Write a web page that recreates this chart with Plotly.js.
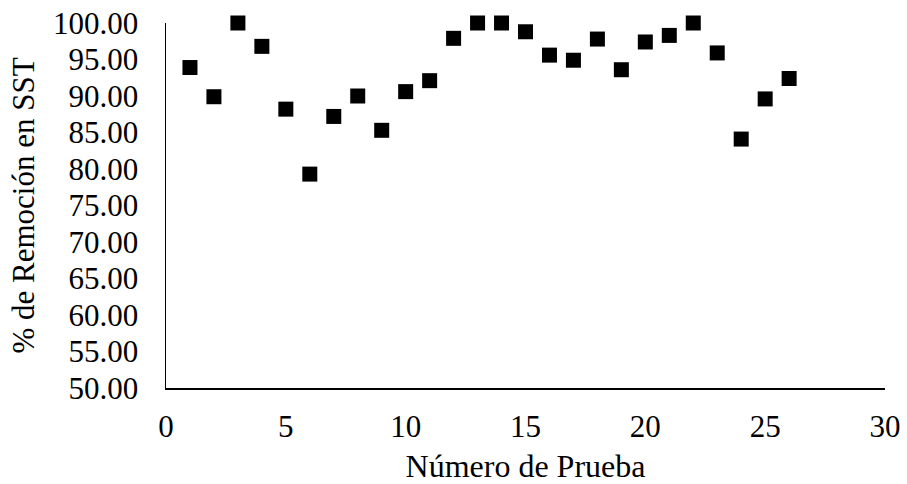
<!DOCTYPE html>
<html>
<head>
<meta charset="utf-8">
<script src="https://cdn.plot.ly/plotly-3.0.1.min.js"></script>
<style>html,body{margin:0;padding:0;background:#fff;}#chart{width:907px;height:484px;}</style>
</head>
<body>
<div id="chart"></div>
<script>
const pruebas = [1,2,3,4,5,6,7,8,9,10,11,12,13,14,15,16,17,18,19,20,21,22,23,24,25,26];
const remocion = [93.9,89.9,100,96.8,88.2,79.3,87.2,90.0,85.3,90.6,92.1,97.9,100,100,98.8,95.6,94.9,97.8,93.6,97.4,98.3,100,95.9,84.1,89.6,92.4];
const xTitle = "Número de Prueba";
const yTitle = "% de Remoción en SST";

const font = "'Liberation Serif', 'Times New Roman', serif";
Plotly.newPlot('chart', [{
  x: pruebas, y: remocion, type: 'scatter', mode: 'markers',
  marker: {symbol: 'square', size: 15, color: '#000'},
  cliponaxis: false, hoverinfo: 'none'
}], {
  width: 907, height: 484,
  margin: {l: 166, r: 22, t: 23, b: 96},
  paper_bgcolor: '#fff', plot_bgcolor: '#fff',
  showlegend: false,
  font: {family: font, color: '#000', size: 31},
  xaxis: {
    range: [0, 30], dtick: 5, tick0: 0, showgrid: false, zeroline: false,
    showline: true, linecolor: '#000', linewidth: 1.5, ticks: '',
    ticklabelstandoff: 10,
    tickfont: {family: font, size: 31, color: '#000'},
    title: {text: xTitle, font: {family: font, size: 32, color: '#000'}, standoff: 14}
  },
  yaxis: {
    range: [50, 100], dtick: 5, tick0: 50, showgrid: false, zeroline: false,
    showline: true, linecolor: '#000', linewidth: 1.5, ticks: '',
    tickformat: '.2f', ticklabelstandoff: 20,
    tickfont: {family: font, size: 31, color: '#000'},
    title: {text: yTitle, font: {family: font, size: 31, color: '#000'}, standoff: 9}
  }
}, {staticPlot: true});
</script>
</body>
</html>
